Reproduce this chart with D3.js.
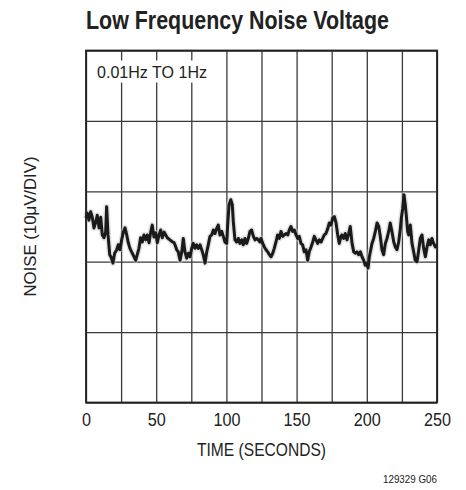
<!DOCTYPE html>
<html>
<head>
<meta charset="utf-8">
<script src="https://cdn.jsdelivr.net/npm/d3@7"></script>
<style>
  body { margin: 0; background: #fff; }
  text { font-family: "Liberation Sans Narrow", "Arial Narrow", "Liberation Sans", sans-serif; fill: #222; }
</style>
</head>
<body>
<div id="chart"></div>
<script>
// time in seconds, noise in uV (centre of the screen = 0)
var time1 = [0,0.9,2.1,3.3,4.5,5.7,6.9,8.0,9.3,10.5,11.6,12.8,14.0,14.7,15.7,16.9,18.0,19.2,20.4,21.9,
  23.0,24.2,25.4,26.6,27.8,29.0,30.1,31.3,32.5,34.2,35.4,36.5,37.7,38.9,40.1,41.3,42.5,43.7,44.9,46.1,
  47.2,48.4,49.6,50.8,52.0,53.2,54.3,55.6,56.8,57.9,59.8,61.5,62.7];
var noise1 = [1.2,1.9,0.9,2.1,1.3,-0.2,0.6,1.6,-0.2,1.3,-1.2,-1.6,-0.8,2.8,-1.2,-4.0,-4.4,-5.2,-3.8,-3.3,
  -2.6,-3.3,-1.9,-0.8,-0.2,-1.2,-2.3,-3.1,-3.6,-4.3,-4.8,-4.0,-3.1,-1.6,-2.2,-1.2,-1.9,-1.2,-2.3,-0.8,
  0.2,-1.5,-0.9,-2.3,-1.2,-0.5,-1.6,-0.8,-1.2,-1.6,-1.9,-2.2,-2.3];
var time2 = [63.4,64.6,65.7,67.0,68.2,69.3,70.5,71.7,72.9,74.1,75.3,76.4,77.6,78.8,80.0,81.2,82.4,83.5,84.8,86.0,
  87.1,88.3,89.5,90.7,91.9,93.0,94.2,95.4,96.7,97.8,99.0,100.2,100.9,101.9,103.1,104.2,104.9,106.1,107.3,108.5,
  109.7,110.9,112.0,113.2,114.4,115.6,116.8,118.0,119.2,120.4,121.6,122.7,123.9];
var noise2 = [-2.6,-3.3,-3.6,-4.8,-3.6,-1.7,-3.6,-4.5,-3.8,-4.3,-3.1,-2.4,-3.1,-2.6,-3.1,-2.6,-3.3,-4.0,-5.2,-3.6,
  -2.6,-1.4,-1.2,-0.5,-1.0,-0.3,0.2,-1.2,-0.7,-1.4,-2.2,-2.4,0.2,3.1,3.8,3.1,0.7,-1.9,-2.2,-1.7,
  -2.4,-1.9,-2.6,-1.7,-2.4,-1.7,-0.7,-0.5,-1.4,-1.9,-1.7,-1.9,-2.2];
var time3 = [124.6,125.9,127.0,128.2,129.4,130.6,131.8,133.0,134.1,135.3,136.5,137.7,138.9,140.1,141.2,142.5,143.7,144.8,146.0,147.2,
  148.4,149.6,150.8,151.9,153.1,154.3,155.5,156.7,157.9,159.0,160.3,161.5,162.6,163.8,165.0,166.2,167.4,168.6,169.7,170.9,
  172.2,173.3,174.5,175.7,176.9,178.1,179.3,180.4,181.6];
var noise3 = [-1.7,-2.4,-2.9,-3.3,-3.6,-4.0,-4.3,-3.8,-3.1,-2.2,-1.2,-1.7,-0.7,-1.4,-1.2,-1.0,-1.2,-0.5,0.0,-0.7,
  -0.5,-1.2,-1.7,-1.4,-2.4,-2.6,-3.6,-3.3,-4.8,-3.6,-2.9,-2.2,-1.4,-1.9,-2.4,-1.9,-2.2,-1.7,-1.2,-1.0,
  -0.3,0.5,0.2,1.2,1.4,0.5,-1.2,-2.4,-1.4];
var time4 = [182.3,183.5,184.7,185.9,187.1,188.2,189.5,190.7,191.8,193.0,194.2,195.4,196.6,197.8,198.9,200.1,200.9,201.8,202.8,203.7,
  204.9,206.1,207.3,208.5,209.6,210.8,212.0,213.2,214.4,215.6,216.7,217.9,219.2,220.3,221.5,222.7,223.9,224.6,225.6,226.5,
  227.4,228.1,229.1,229.8,231.0,232.2,233.4,234.5,235.8,237.0,238.1,239.3,240.5,241.7,242.9,244.1,245.2,246.4,247.6,248.8,250];
var noise4 = [-1.2,-1.7,-1.0,-1.9,-1.0,0.0,-2.4,-3.6,-3.8,-3.6,-4.0,-3.6,-4.3,-4.8,-5.5,-5.2,-5.9,-4.3,-3.3,-2.4,
  -1.7,-0.7,0.5,0.0,-1.4,-3.3,-4.0,-2.4,-1.7,-0.7,0.5,-0.7,-2.2,-2.9,-3.3,-2.2,-0.3,1.2,2.6,4.5,
  3.1,1.6,-0.7,-1.2,0.2,-2.4,-3.6,-4.8,-5.0,-3.3,-1.7,-1.2,-3.1,-4.3,-2.9,-1.9,-2.6,-1.7,-2.4,-2.9,-2.6];

var xTicks = [0, 50, 100, 150, 200, 250];
var xGrid = d3.range(0, 251, 25);
var yGrid = [-25, -15, -5, 5, 15, 25];

var times = time1.concat(time2, time3, time4);
var noise = noise1.concat(noise2, noise3, noise4);
var data = times.map(function(t, i) { return {t: t, v: noise[i]}; });

var svg = d3.select("#chart").append("svg").attr("width", 466).attr("height", 490),
    margin = {top: 50.5, left: 86},
    width = 351,
    height = 352,
    g = svg.append("g").attr("transform", "translate(" + margin.left + "," + margin.top + ")");

var x = d3.scaleLinear().domain([0, 250]).range([0, width]);
var y = d3.scaleLinear().domain([-25, 25]).range([height, 0]);

// grid
g.append("g")
    .attr("class", "grid")
    .attr("transform", "translate(0," + height + ")")
    .call(d3.axisBottom(x).tickValues(xGrid).tickSize(-height).tickFormat(""))
    .call(function(s) { s.select(".domain").remove(); });
g.append("g")
    .attr("class", "grid")
    .call(d3.axisLeft(y).tickValues(yGrid).tickSize(-width).tickFormat(""))
    .call(function(s) { s.select(".domain").remove(); });
g.selectAll(".grid line").attr("stroke", "#3a3a3a").attr("stroke-width", 1.3);

// frequency band note, white box behind it
g.append("rect")
    .attr("x", 9).attr("y", 10).attr("width", 114).attr("height", 22)
    .attr("fill", "#fff");
g.append("text")
    .attr("x", 11).attr("y", 27)
    .attr("font-size", 17)
    .attr("textLength", 110).attr("lengthAdjust", "spacingAndGlyphs")
    .text("0.01Hz TO 1Hz");

// noise trace
var line = d3.line()
    .x(function(d) { return x(d.t); })
    .y(function(d) { return y(d.v); });

g.append("path")
    .datum(data)
    .attr("fill", "none")
    .attr("stroke", "#c8c8c8")
    .attr("stroke-width", 6)
    .attr("stroke-linejoin", "round")
    .attr("opacity", 0.5)
    .attr("d", line);
g.append("path")
    .datum(data)
    .attr("fill", "none")
    .attr("stroke", "#1a1a1a")
    .attr("stroke-width", 3)
    .attr("stroke-linejoin", "round")
    .attr("d", line);

// frame
g.append("rect")
    .attr("width", width).attr("height", height)
    .attr("fill", "none").attr("stroke", "#222").attr("stroke-width", 1.8);

// x labels, squeezed to the narrow face of the original
g.append("g")
    .attr("transform", "translate(0," + height + ")")
    .call(d3.axisBottom(x).tickValues(xTicks).tickSize(0).tickPadding(11))
    .call(function(s) { s.select(".domain").remove(); })
    .selectAll("text")
      .attr("font-size", 18)
      .attr("font-family", null)
      .attr("fill", "#222")
      .attr("lengthAdjust", "spacingAndGlyphs")
      .attr("textLength", function(d) { return String(d).length * 9; });

g.append("text")
    .attr("x", x(125)).attr("y", 405)
    .attr("text-anchor", "middle")
    .attr("font-size", 18)
    .attr("textLength", 129).attr("lengthAdjust", "spacingAndGlyphs")
    .text("TIME (SECONDS)");

svg.append("text")
    .attr("transform", "translate(36," + (margin.top + height / 2) + ") rotate(-90)")
    .attr("text-anchor", "middle")
    .attr("font-size", 17)
    .attr("textLength", 140).attr("lengthAdjust", "spacingAndGlyphs")
    .text("NOISE (10\u03bcV/DIV)");

svg.append("text")
    .attr("x", 86).attr("y", 29)
    .attr("font-size", 25)
    .attr("font-weight", "bold")
    .attr("textLength", 303).attr("lengthAdjust", "spacingAndGlyphs")
    .text("Low Frequency Noise Voltage");

svg.append("text")
    .attr("x", 437).attr("y", 483)
    .attr("text-anchor", "end")
    .attr("font-size", 10)
    .attr("textLength", 54).attr("lengthAdjust", "spacingAndGlyphs")
    .text("129329  G06");
</script>
</body>
</html>
